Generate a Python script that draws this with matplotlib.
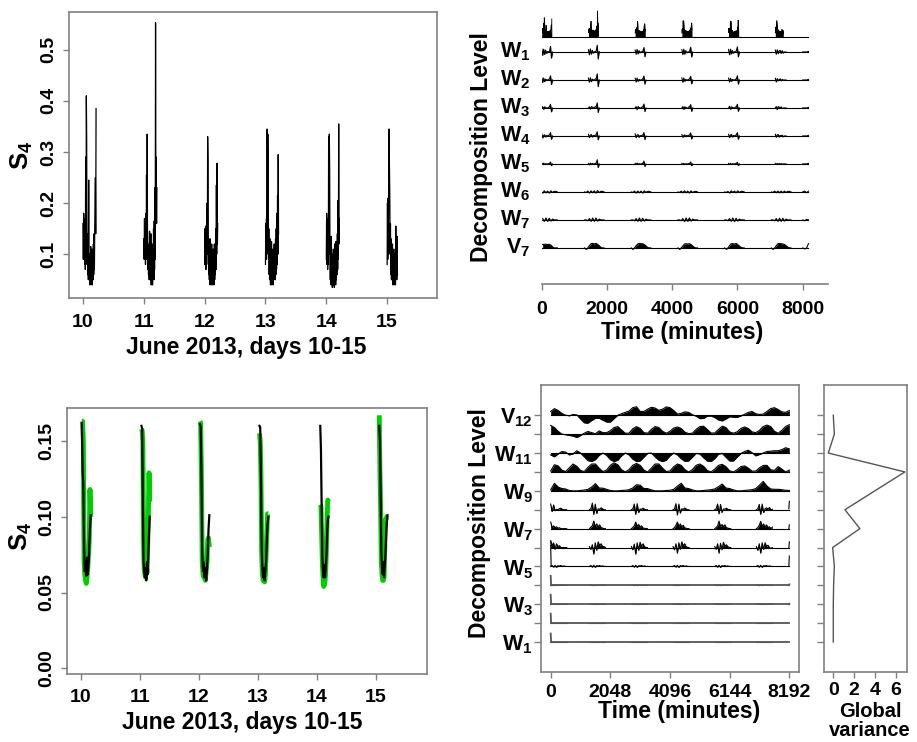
import numpy as np
import matplotlib
matplotlib.use("Agg")
import matplotlib.pyplot as plt
from matplotlib.transforms import blended_transform_factory

plt.rcParams['font.family'] = 'Liberation Sans'
plt.rcParams['font.weight'] = 'bold'
plt.rcParams['mathtext.fontset'] = 'custom'
for k in ('rm', 'bf', 'it', 'sf'):
    plt.rcParams['mathtext.' + k] = 'Liberation Sans:bold'

# ---------------- data ----------------
days = [10, 11, 12, 13, 14, 15]
s4_span = [0.215, 0.215, 0.215, 0.215, 0.215, 0.17]   # fraction of day covered by each night
s4_d10 = [0.16, 0.09, 0.18, 0.10, 0.17, 0.08, 0.15, 0.07, 0.29, 0.09, 0.41, 0.32, 0.08, 0.14, 0.06, 0.11,
          0.05, 0.245, 0.06, 0.10, 0.04, 0.09, 0.05, 0.115, 0.04, 0.08, 0.05, 0.11, 0.04, 0.09, 0.05, 0.12,
          0.06, 0.14, 0.07, 0.15, 0.20, 0.25, 0.14, 0.385]
s4_d11 = [0.13, 0.09, 0.17, 0.10, 0.15, 0.08, 0.18, 0.09, 0.255, 0.12, 0.335, 0.14, 0.07, 0.12, 0.06, 0.10,
          0.05, 0.145, 0.06, 0.11, 0.05, 0.14, 0.04, 0.09, 0.05, 0.12, 0.04, 0.10, 0.06, 0.15, 0.05, 0.165,
          0.07, 0.23, 0.09, 0.553, 0.20, 0.29, 0.16, 0.23]
s4_d12 = [0.08, 0.15, 0.09, 0.155, 0.07, 0.14, 0.08, 0.20, 0.10, 0.33, 0.285, 0.12, 0.06, 0.13, 0.05, 0.11,
          0.04, 0.13, 0.06, 0.10, 0.04, 0.12, 0.05, 0.09, 0.04, 0.11, 0.05, 0.08, 0.04, 0.12, 0.05, 0.10,
          0.06, 0.15, 0.07, 0.235, 0.10, 0.278, 0.12, 0.16]
s4_d13 = [0.08, 0.16, 0.09, 0.17, 0.10, 0.345, 0.12, 0.335, 0.26, 0.09, 0.15, 0.06, 0.12, 0.05, 0.13, 0.04,
          0.10, 0.05, 0.125, 0.04, 0.09, 0.05, 0.11, 0.04, 0.08, 0.05, 0.12, 0.06, 0.10, 0.05, 0.13, 0.06,
          0.15, 0.07, 0.18, 0.08, 0.215, 0.10, 0.295, 0.14]
s4_d14 = [0.09, 0.18, 0.08, 0.17, 0.07, 0.15, 0.08, 0.33, 0.10, 0.335, 0.27, 0.09, 0.05, 0.12, 0.04, 0.135,
          0.05, 0.10, 0.035, 0.09, 0.04, 0.11, 0.04, 0.08, 0.035, 0.12, 0.05, 0.10, 0.04, 0.125, 0.05, 0.11,
          0.06, 0.14, 0.07, 0.205, 0.09, 0.355, 0.12, 0.17]
s4_d15 = [0.08, 0.20, 0.09, 0.21, 0.10, 0.335, 0.345, 0.27, 0.22, 0.10, 0.16, 0.06, 0.13, 0.05, 0.11, 0.05,
          0.12, 0.04, 0.09, 0.05, 0.11, 0.04, 0.10, 0.05, 0.09, 0.04, 0.155, 0.06, 0.11, 0.05, 0.135, 0.06]
s4_days = [s4_d10, s4_d11, s4_d12, s4_d13, s4_d14, s4_d15]

# smoothed S4 (bottom left): black and green reconstructions
sm_start = [10.02, 11.03, 12.02, 13.03, 14.06, 15.06]
sm_end = [10.17, 11.17, 12.18, 13.18, 14.20, 15.20]
sm_black = [
    [0.162, 0.130, 0.121, 0.080, 0.064, 0.070, 0.061, 0.073, 0.062, 0.068, 0.080, 0.092, 0.101],
    [0.160, 0.158, 0.110, 0.070, 0.064, 0.060, 0.066, 0.058, 0.070, 0.062, 0.075, 0.090, 0.100],
    [0.161, 0.160, 0.130, 0.075, 0.064, 0.070, 0.060, 0.066, 0.058, 0.065, 0.075, 0.092, 0.101],
    [0.160, 0.159, 0.125, 0.080, 0.065, 0.060, 0.066, 0.058, 0.064, 0.070, 0.085, 0.095, 0.100],
    [0.160, 0.145, 0.108, 0.073, 0.064, 0.060, 0.068, 0.060, 0.066, 0.075, 0.088, 0.098, 0.100],
    [0.160, 0.150, 0.114, 0.078, 0.066, 0.062, 0.070, 0.060, 0.068, 0.075, 0.088, 0.096, 0.101]]
sm_green = [
    [0.163, 0.163, 0.150, 0.070, 0.062, 0.058, 0.056, 0.060, 0.066, 0.075, 0.085, 0.118, 0.100],
    [0.158, 0.157, 0.150, 0.085, 0.065, 0.062, 0.060, 0.070, 0.063, 0.080, 0.100, 0.129, 0.110],
    [0.163, 0.162, 0.125, 0.070, 0.062, 0.060, 0.062, 0.058, 0.064, 0.070, 0.085, 0.086, 0.080],
    [0.155, 0.150, 0.128, 0.075, 0.062, 0.058, 0.060, 0.057, 0.062, 0.075, 0.090, 0.102, 0.102],
    [0.108, 0.107, 0.090, 0.070, 0.060, 0.054, 0.055, 0.058, 0.065, 0.080, 0.100, 0.111, 0.110],
    [0.167, 0.130, 0.105, 0.070, 0.062, 0.058, 0.058, 0.060, 0.080, 0.098, 0.099, 0.100, 0.100]]

# top right: MODWT of the nightly series (minutes)
tr_starts = [0, 1432, 2864, 4296, 5728, 7160]
tr_end = 8176
tr_rel = [0, 30, 60, 90, 120, 150, 180, 210, 240, 270, 300, 330]
tr_rel_long = [-120, -70, -20, 30, 80, 130, 180, 230, 280, 330, 380, 430, 480]
tr_tail_x = [8000, 8060, 8120, 8176]
tr_labels = ['W1', 'W2', 'W3', 'W4', 'W5', 'W6', 'W7', 'V7']
w1_tr = [[0.12, -0.12, 0.10, -0.09, 0.07, -0.05, 0.02, 0.0, 0.03, 0.20, -0.22, 0.0],
         [0.08, -0.10, 0.11, -0.08, 0.06, -0.04, 0.01, 0.0, 0.05, 0.24, -0.25, 0.02],
         [0.07, -0.08, 0.09, -0.07, 0.05, -0.03, 0.01, 0.0, 0.04, 0.16, -0.17, 0.0],
         [0.08, -0.09, 0.10, -0.08, 0.05, -0.03, 0.0, 0.0, 0.04, 0.17, -0.18, 0.0],
         [0.09, -0.10, 0.10, -0.07, 0.05, -0.04, 0.01, 0.0, 0.05, 0.18, -0.17, 0.0],
         [0.07, -0.08, 0.08, -0.06, 0.04, 0.06, -0.05, 0.05, -0.04, 0.0, 0.0, 0.0]]
w2_tr = [[0.08, -0.09, 0.07, -0.06, 0.03, 0.0, 0.0, 0.02, 0.04, 0.15, -0.16, 0.0],
         [0.07, -0.08, 0.08, -0.06, 0.03, 0.0, 0.0, 0.03, 0.06, 0.22, -0.24, 0.0],
         [0.06, -0.07, 0.07, -0.05, 0.02, 0.0, 0.0, 0.02, 0.05, 0.14, -0.15, 0.0],
         [0.07, -0.08, 0.07, -0.05, 0.02, 0.0, 0.0, 0.02, 0.05, 0.13, -0.14, 0.0],
         [0.07, -0.07, 0.06, -0.05, 0.02, 0.0, 0.0, 0.02, 0.05, 0.15, -0.15, 0.0],
         [0.06, -0.07, 0.05, -0.03, 0.02, 0.04, -0.03, 0.02, 0.0, 0.0, 0.0, 0.0]]
w3_tr = [[0.0, 0.05, -0.05, 0.04, 0.02, 0.0, 0.0, 0.02, 0.05, 0.13, -0.14, 0.0],
         [0.0, 0.04, -0.04, 0.05, 0.03, 0.0, 0.02, 0.04, 0.06, 0.18, -0.16, 0.0],
         [0.0, 0.05, -0.06, 0.05, 0.02, 0.0, 0.0, 0.03, 0.05, 0.14, -0.13, 0.0],
         [0.0, 0.05, -0.05, 0.04, 0.02, 0.0, 0.0, 0.03, 0.05, 0.12, -0.12, 0.0],
         [0.0, 0.06, -0.05, 0.04, 0.02, 0.0, 0.0, 0.03, 0.05, 0.13, -0.12, 0.0],
         [0.0, 0.05, -0.06, 0.05, 0.03, 0.0, 0.04, -0.02, 0.0, 0.0, 0.0, 0.0]]
w4_tr = [[0.08, -0.07, 0.02, 0.04, -0.04, 0.02, 0.0, 0.02, 0.04, 0.12, -0.12, 0.0],
         [0.06, -0.06, 0.03, 0.05, -0.04, 0.02, 0.0, 0.03, 0.05, 0.15, -0.14, 0.0],
         [0.07, -0.06, 0.03, 0.05, -0.05, 0.02, 0.0, 0.02, 0.04, 0.12, -0.13, 0.0],
         [0.05, -0.05, 0.02, 0.04, -0.03, 0.02, 0.0, 0.02, 0.04, 0.11, -0.11, 0.0],
         [0.06, -0.06, 0.04, 0.05, -0.04, 0.02, 0.0, 0.02, 0.05, 0.12, -0.12, 0.0],
         [0.06, -0.05, 0.04, 0.05, -0.04, 0.02, 0.0, 0.03, -0.03, 0.0, 0.0, 0.0]]
w5_tr = [[0.03, -0.02, 0.03, -0.02, 0.01, 0.0, 0.0, 0.01, 0.02, 0.07, -0.06, 0.0],
         [0.02, -0.03, 0.03, -0.02, 0.02, 0.0, 0.0, 0.02, 0.03, 0.15, -0.13, 0.0],
         [0.02, -0.02, 0.03, -0.02, 0.01, 0.0, 0.0, 0.01, 0.03, 0.10, -0.09, 0.0],
         [0.02, -0.02, 0.02, -0.02, 0.01, 0.0, 0.0, 0.01, 0.02, 0.07, -0.06, 0.0],
         [0.02, -0.02, 0.02, -0.02, 0.01, 0.0, 0.0, 0.01, 0.02, 0.06, -0.06, 0.0],
         [0.02, -0.02, 0.02, -0.01, 0.01, 0.0, 0.01, -0.01, 0.0, 0.0, 0.0, 0.0]]
w6_tr = [[0.0, 0.0, 0.0, -0.04, 0.04, -0.03, 0.03, -0.04, 0.04, -0.02, 0.02, 0.02, 0.0],
         [0.0, -0.02, 0.03, -0.04, 0.04, -0.03, 0.04, -0.04, 0.05, -0.02, 0.02, 0.02, 0.0],
         [0.0, -0.02, 0.03, -0.04, 0.03, -0.03, 0.03, -0.04, 0.04, -0.02, 0.02, 0.02, 0.0],
         [0.0, -0.02, 0.03, -0.03, 0.04, -0.03, 0.03, -0.04, 0.04, -0.02, 0.01, 0.02, 0.0],
         [0.0, -0.02, 0.02, -0.04, 0.04, -0.02, 0.03, -0.03, 0.04, -0.02, 0.02, 0.02, 0.0],
         [0.0, -0.02, 0.03, -0.03, 0.03, -0.03, 0.03, -0.03, 0.03, -0.02, 0.02, 0.02, 0.0]]
w7_tr = [[0.0, 0.0, 0.0, 0.05, -0.05, 0.07, -0.05, 0.06, -0.04, 0.03, 0.0, 0.0, 0.0],
         [0.0, 0.0, -0.03, 0.05, -0.05, 0.07, -0.05, 0.07, -0.04, 0.03, 0.0, 0.0, 0.0],
         [0.0, 0.0, -0.03, 0.05, -0.05, 0.07, -0.05, 0.06, -0.04, 0.03, 0.0, 0.0, 0.0],
         [0.0, 0.0, -0.03, 0.05, -0.06, 0.07, -0.05, 0.07, -0.04, 0.03, 0.0, 0.0, 0.0],
         [0.0, 0.0, -0.03, 0.05, -0.05, 0.07, -0.06, 0.06, -0.04, 0.03, 0.0, 0.0, 0.0],
         [0.0, 0.0, -0.03, 0.05, -0.05, 0.06, -0.05, 0.06, -0.04, 0.03, 0.0, 0.0, 0.0]]
v7_tr = [[0.0, 0.0, 0.0, 0.12, 0.13, 0.13, 0.12, 0.13, 0.10, 0.04, 0.0, 0.0, 0.0],
         [0.0, -0.05, 0.0, 0.08, 0.15, 0.16, 0.14, 0.16, 0.13, 0.08, 0.02, 0.0, 0.0],
         [0.0, -0.05, 0.0, 0.08, 0.14, 0.16, 0.15, 0.15, 0.12, 0.07, 0.02, 0.0, 0.0],
         [0.0, -0.05, 0.0, 0.07, 0.14, 0.15, 0.14, 0.15, 0.12, 0.07, 0.02, 0.0, 0.0],
         [0.0, -0.05, 0.0, 0.08, 0.15, 0.15, 0.14, 0.16, 0.12, 0.07, 0.02, 0.0, 0.0],
         [0.0, -0.05, 0.0, 0.08, 0.15, 0.16, 0.15, 0.14, 0.12, 0.08, 0.03, 0.0, 0.0]]
tr_tails = [[0.0, 0.0, 0.0, 0.02], [0.0, 0.0, 0.0, 0.02], [0.0, 0.0, 0.0, 0.02], [0.0, 0.0, 0.0, 0.02],
            [0.0, 0.0, 0.0, 0.02], [0.0, 0.03, -0.03, 0.03], [0.0, -0.03, 0.02, 0.0], [0.0, -0.04, 0.0, 0.15]]

# bottom right: MODWT of the reconstructed series, 13 levels
br_grid = np.arange(0, 8193, 128)
v12_br = [0.2, 0.35, 0.25, 0.1, 0.0, -0.03, 0.04, 0.02, -0.2, -0.4, -0.42, -0.28, -0.16, -0.16, -0.26, -0.36,
          -0.36, -0.18, 0.0, 0.08, 0.15, 0.22, 0.4, 0.45, 0.2, 0.2, 0.32, 0.42, 0.38, 0.26, 0.32, 0.44,
          0.4, 0.25, 0.06, 0.1, 0.18, 0.15, 0.03, -0.05, -0.18, -0.17, -0.05, -0.04, -0.12, -0.25, -0.3, -0.2,
          -0.08, -0.1, -0.12, -0.04, 0.05, 0.15, 0.2, 0.08, 0.04, 0.06, 0.2, 0.35, 0.4, 0.3, 0.18, 0.15, 0.25]
w12_br = [0.46, 0.35, 0.15, 0.0, -0.03, -0.07, -0.1, -0.18, -0.08, 0.05, 0.14, 0.08, 0.02, 0.17, 0.08, 0.08,
          0.18, 0.35, 0.4, 0.22, 0.05, 0.05, 0.28, 0.4, 0.3, 0.08, 0.05, 0.25, 0.4, 0.35, 0.15, 0.05,
          0.15, 0.32, 0.38, 0.3, 0.1, 0.03, 0.05, 0.25, 0.4, 0.42, 0.25, 0.06, 0.06, 0.25, 0.42, 0.35,
          0.12, 0.05, 0.12, 0.3, 0.38, 0.3, 0.12, 0.08, 0.2, 0.4, 0.48, 0.4, 0.15, 0.05, 0.2, 0.4, 0.5]
w11_br = [-0.1, -0.2, -0.05, 0.08, 0.05, -0.1, -0.05, 0.12, 0.0, -0.2, -0.4, -0.45, -0.35, -0.12, 0.0, -0.12,
          -0.35, -0.45, -0.38, -0.15, 0.0, -0.1, -0.32, -0.45, -0.42, -0.22, -0.02, 0.0, -0.2, -0.38, -0.45, -0.38,
          -0.15, 0.0, -0.1, -0.3, -0.44, -0.42, -0.22, -0.02, -0.05, -0.25, -0.42, -0.45, -0.3, -0.06, -0.02, -0.22,
          -0.42, -0.42, -0.22, -0.03, 0.08, 0.15, 0.02, -0.15, -0.08, 0.0, 0.08, 0.1, 0.12, 0.12, 0.18, 0.28, 0.22]
w10_br = [0.05, 0.38, 0.32, 0.1, 0.02, 0.22, 0.42, 0.3, 0.08, 0.02, 0.25, 0.42, 0.42, 0.2, 0.02, 0.1,
          0.35, 0.48, 0.38, 0.12, 0.0, 0.12, 0.35, 0.45, 0.35, 0.1, 0.0, 0.2, 0.42, 0.42, 0.2, 0.02,
          0.05, 0.28, 0.42, 0.35, 0.12, 0.0, 0.12, 0.35, 0.42, 0.3, 0.08, 0.0, 0.15, 0.35, 0.4, 0.28,
          0.06, 0.0, 0.12, 0.28, 0.32, 0.2, 0.04, 0.05, 0.22, 0.34, 0.35, 0.12, 0.08, 0.28, 0.15, 0.0, 0.1]
w9_br = [0.05, 0.4, 0.2, 0.12, 0.1, 0.02, 0.0, 0.0, 0.02, 0.04, 0.08, 0.2, 0.38, 0.15, 0.14, 0.08,
         0.02, 0.0, 0.0, 0.02, 0.03, 0.06, 0.15, 0.32, 0.3, 0.12, 0.12, 0.05, 0.0, 0.0, 0.0, 0.02,
         0.03, 0.08, 0.25, 0.4, 0.15, 0.12, 0.05, 0.0, 0.0, 0.02, 0.04, 0.06, 0.1, 0.22, 0.36, 0.15,
         0.12, 0.05, 0.0, 0.0, 0.02, 0.04, 0.06, 0.12, 0.3, 0.5, 0.25, 0.1, 0.08, 0.08, 0.06, 0.03, 0.02]
smooth_rows = {13: v12_br, 12: w12_br, 11: w11_br, 10: w10_br, 9: w9_br}

br_starts = [0, 1330, 2770, 4200, 5630, 7060]
br_rel = [0, 50, 100, 150, 200, 250, 300, 350, 400, 450, 500, 550]
br_head_x = [0, 16]
br_tail_x = [8176, 8192]
w8_br = [[0.3, -0.1, 0.25, -0.05, 0.02, 0.0, 0.06, 0.08, 0.02, 0.0, 0.0, 0.0],
         [0.0, 0.05, 0.35, -0.25, 0.3, -0.2, 0.05, 0.02, 0.1, 0.05, 0.0, 0.0],
         [0.0, 0.05, 0.3, -0.25, 0.32, -0.15, 0.04, 0.02, 0.08, 0.03, 0.0, 0.0],
         [0.0, 0.04, 0.32, -0.28, 0.3, -0.18, 0.05, 0.02, 0.09, 0.04, 0.0, 0.0],
         [0.0, 0.05, 0.3, -0.22, 0.28, -0.15, 0.04, 0.03, 0.08, 0.03, 0.0, 0.0],
         [0.0, 0.05, 0.28, -0.25, 0.3, -0.15, 0.05, 0.1, 0.02, 0.12, 0.0, 0.02]]
w7_br = [[0.35, 0.05, 0.15, 0.05, 0.1, 0.02, 0.05, 0.0, 0.0, 0.0, 0.0, 0.0],
         [0.0, 0.08, 0.15, 0.4, 0.1, 0.25, 0.1, 0.2, 0.05, 0.03, 0.0, 0.0],
         [0.0, 0.06, 0.15, 0.35, 0.12, 0.22, 0.08, 0.15, 0.03, 0.02, 0.0, 0.0],
         [0.0, 0.05, 0.18, 0.35, 0.1, 0.25, 0.08, 0.18, 0.04, 0.02, 0.0, 0.0],
         [0.0, 0.06, 0.15, 0.4, 0.1, 0.22, 0.1, 0.2, 0.05, 0.03, 0.0, 0.0],
         [0.0, 0.05, 0.18, 0.38, 0.12, 0.25, 0.08, 0.2, 0.05, 0.1, 0.0, 0.08]]
w6_br = [[0.35, 0.1, 0.25, -0.1, 0.2, 0.05, 0.1, 0.0, 0.0, 0.0, 0.0, 0.0],
         [0.05, -0.1, 0.15, -0.35, 0.25, -0.15, 0.3, 0.1, 0.2, 0.05, 0.05, 0.0],
         [0.05, -0.12, 0.18, -0.35, 0.25, -0.15, 0.28, 0.05, 0.2, 0.05, 0.0, 0.0],
         [0.05, -0.12, 0.2, -0.3, 0.25, -0.1, 0.3, 0.08, 0.2, 0.05, 0.0, 0.0],
         [0.05, -0.1, 0.2, -0.3, 0.22, -0.12, 0.28, 0.05, 0.15, 0.05, 0.0, 0.0],
         [0.05, -0.15, 0.2, -0.3, 0.25, -0.1, 0.25, 0.05, 0.12, 0.0, -0.05, 0.0]]
w5_br = [[0.0, 0.05, -0.04, 0.06, -0.05, 0.04, 0.02, 0.05, 0.0, 0.03, 0.0, 0.0]] * 6
w4_br = [[0.0, 0.02, -0.02, 0.03, -0.02, 0.02, -0.01, 0.02, 0.0, 0.0, 0.0, 0.0]] * 6
w3_br = [[0.0, 0.0, 0.02, -0.02, 0.03, -0.02, 0.0, 0.0, 0.0, 0.0, 0.0, 0.0]] * 6
no_bursts = [[0.0] * 12] * 6
burst_rows = {8: w8_br, 7: w7_br, 6: w6_br, 5: w5_br, 4: w4_br, 3: w3_br, 2: no_bursts, 1: no_bursts}
br_heads = {8: [0.0, 0.0], 7: [0.0, 0.0], 6: [0.35, 0.1], 5: [1.1, 0.0], 4: [0.5, 0.0], 3: [0.5, 0.0],
            2: [0.5, 0.0], 1: [0.45, 0.0]}
br_tails = {8: [0.05, 0.45], 7: [0.0, 0.2], 6: [0.0, 0.3], 5: [0.0, 0.55], 4: [0.0, 0.05], 3: [0.0, 0.02],
            2: [0.0, 0.0], 1: [0.0, 0.0]}
br_tick_labels = [r'$\mathrm{W}_{1}$', '', r'$\mathrm{W}_{3}$', '', r'$\mathrm{W}_{5}$', '', r'$\mathrm{W}_{7}$', '',
                  r'$\mathrm{W}_{9}$', '', r'$\mathrm{W}_{11}$', '', r'$\mathrm{V}_{12}$']
global_var = [0.0, 0.0, 0.0, 0.03, 0.1, -0.06, 2.56, 1.12, 4.0, 6.89, -0.48, 0.1, 0.0]

# ---------------- figure ----------------
W, H = 917, 742
fig = plt.figure(figsize=(W / 100, H / 100), dpi=100)


def px_axes(x0, y0, x1, y1):
    return fig.add_axes([x0 / W, 1 - y1 / H, (x1 - x0) / W, (y1 - y0) / H])


def ftext(x, y, s, **kw):
    fig.text(x / W, 1 - y / H, s, ha='center', va='center', **kw)


GRAY = '#808080'
TICK = 14
LAB = 16.5


def style_box(ax, xpad=5):
    for sp in ax.spines.values():
        sp.set_color(GRAY)
        sp.set_linewidth(1.2)
    ax.tick_params(direction='out', length=4.5, width=1, color=GRAY, labelsize=TICK, pad=4)
    ax.tick_params(axis='x', pad=xpad)


# top left: raw S4
ax1 = px_axes(69, 12, 437, 298)
for d, vals, span in zip(days, s4_days, s4_span):
    t = d + np.linspace(0, span, len(vals))
    ax1.plot(t, vals, color='black', lw=0.9)
ax1.set_xlim(9.77, 15.82)
ax1.set_ylim(0.0143, 0.574)
ax1.set_xticks(days)
ax1.set_yticks([0.1, 0.2, 0.3, 0.4, 0.5])
style_box(ax1, xpad=7)
ax1.tick_params(axis='y', labelrotation=90)
for lab in ax1.get_yticklabels():
    lab.set_va('center')
ftext(246, 348, 'June 2013, days 10-15', fontsize=LAB)
ftext(21.7, 155, r'$\mathrm{S}_{4}$', fontsize=LAB + 2, rotation=90)

# bottom left: reconstructed S4
ax3 = px_axes(66.7, 407.7, 426.7, 674)
for s, e, bl, gr in zip(sm_start, sm_end, sm_black, sm_green):
    t = np.linspace(s, e, len(bl))
    ax3.plot(t, gr, color='#00cc00', lw=3.5, solid_capstyle='butt')
    ax3.plot(t, bl, color='black', lw=1.6)
ax3.set_xlim(9.763, 15.864)
ax3.set_ylim(-0.0038, 0.172)
ax3.set_xticks(days)
ax3.set_yticks([0.0, 0.05, 0.10, 0.15])
ax3.set_yticklabels(['0.00', '0.05', '0.10', '0.15'])
style_box(ax3, xpad=6)
ax3.tick_params(axis='y', labelrotation=90)
for lab in ax3.get_yticklabels():
    lab.set_va('center')
ftext(242.5, 723, 'June 2013, days 10-15', fontsize=LAB)
ftext(20.7, 536.7, r'$\mathrm{S}_{4}$', fontsize=LAB + 2, rotation=90)

# top right: decomposition rows
ax2 = px_axes(541.7, 5, 827.7, 284)
orig_level, orig_scale = 7.55, 1.65
ax2.plot([0, tr_end], [orig_level, orig_level], color='black', lw=0.8)
for s, vals, span in zip(tr_starts, s4_days, s4_span):
    x = s + np.linspace(0, span, len(vals)) * 1440
    y = orig_level + orig_scale * np.array(vals)
    ax2.fill_between(x, orig_level, y, color='black', lw=0)
    ax2.plot(x, y, color='black', lw=0.6)
tr_rows = [w1_tr, w2_tr, w3_tr, w4_tr, w5_tr, w6_tr, w7_tr, v7_tr]
tr_levels = [7, 6, 5, 4, 3, 2, 1, 0]
tr_rels = [tr_rel] * 5 + [tr_rel_long] * 3
for rows, lev, rel, tail in zip(tr_rows, tr_levels, tr_rels, tr_tails):
    ax2.plot([0, tr_end], [lev, lev], color='black', lw=0.8)
    for s, vals in zip(tr_starts, rows):
        x = s + np.array(rel)
        y = lev + np.array(vals)
        keep = x >= 0
        ax2.fill_between(x[keep], lev, y[keep], color='black', lw=0)
        ax2.plot(x[keep], y[keep], color='black', lw=0.8)
    ax2.plot(tr_tail_x, lev + np.array(tail), color='black', lw=0.8)
trans = blended_transform_factory(ax2.transAxes, ax2.transData)
for lab, lev in zip(tr_labels, tr_levels):
    ax2.text(-0.04, lev, r'$\mathrm{%s}_{%s}$' % (lab[0], lab[1:]), transform=trans,
             ha='right', va='center', fontsize=15.5)
ax2.set_xlim(0, 8766)
ax2.set_ylim(-1.29, 8.68)
for side in ('left', 'right', 'top'):
    ax2.spines[side].set_visible(False)
ax2.spines['bottom'].set_color(GRAY)
ax2.spines['bottom'].set_linewidth(1.2)
ax2.set_yticks([])
ax2.set_xticks([0, 2000, 4000, 6000, 8000])
ax2.tick_params(axis='x', direction='out', length=4.5, width=1, color=GRAY, labelsize=TICK, pad=8)
ftext(682, 332.7, 'Time (minutes)', fontsize=LAB)
ftext(481.7, 147.5, 'Decomposition Level', fontsize=LAB, rotation=90)

# bottom right: 13-level decomposition
ax4 = px_axes(541.3, 385, 798.7, 671.7)
for lev, vals in smooth_rows.items():
    y = lev + np.array(vals)
    ax4.fill_between(br_grid, lev, y, color='black', lw=0)
    ax4.plot(br_grid, y, color='black', lw=0.8)
    ax4.plot([0, 8192], [lev, lev], color='black', lw=0.8)
for lev, rows in burst_rows.items():
    col = 'black' if lev > 4 else '#555555'
    lw = 0.8 if lev > 4 else 1.3
    ax4.plot([0, 8192], [lev, lev], color=col, lw=lw)
    for s, vals in zip(br_starts, rows):
        x = s + np.array(br_rel)
        y = lev + np.array(vals)
        ax4.fill_between(x, lev, y, color=col, lw=0)
        ax4.plot(x, y, color=col, lw=0.8)
    ax4.plot(br_head_x, lev + np.array(br_heads[lev]), color=col, lw=lw)
    ax4.plot(br_tail_x, lev + np.array(br_tails[lev]), color=col, lw=lw)
ax4.set_xlim(-322, 8514)
ax4.set_ylim(-0.57, 14.6)
ax4.set_xticks([0, 2048, 4096, 6144, 8192])
ax4.set_yticks(range(1, 14))
ax4.set_yticklabels(br_tick_labels)
style_box(ax4, xpad=4)
ax4.tick_params(axis='y', labelsize=15.5, pad=1, length=5)
ftext(679, 711.7, 'Time (minutes)', fontsize=LAB)
ftext(479.7, 523, 'Decomposition Level', fontsize=LAB, rotation=90)

# global variance
ax5 = px_axes(824.3, 385, 907.3, 671.7)
ax5.plot(global_var, range(1, 14), color='#555555', lw=1)
ax5.set_xlim(-0.865, 7.12)
ax5.set_ylim(-0.57, 14.6)
ax5.set_xticks([0, 2, 4, 6])
ax5.set_yticks(range(1, 14))
ax5.set_yticklabels([])
style_box(ax5, xpad=3)
ax5.tick_params(axis='y', length=5)
ftext(870, 721, 'Global\nvariance', fontsize=14.5, linespacing=0.95, multialignment='center')

fig.savefig('out.png', dpi=100)
